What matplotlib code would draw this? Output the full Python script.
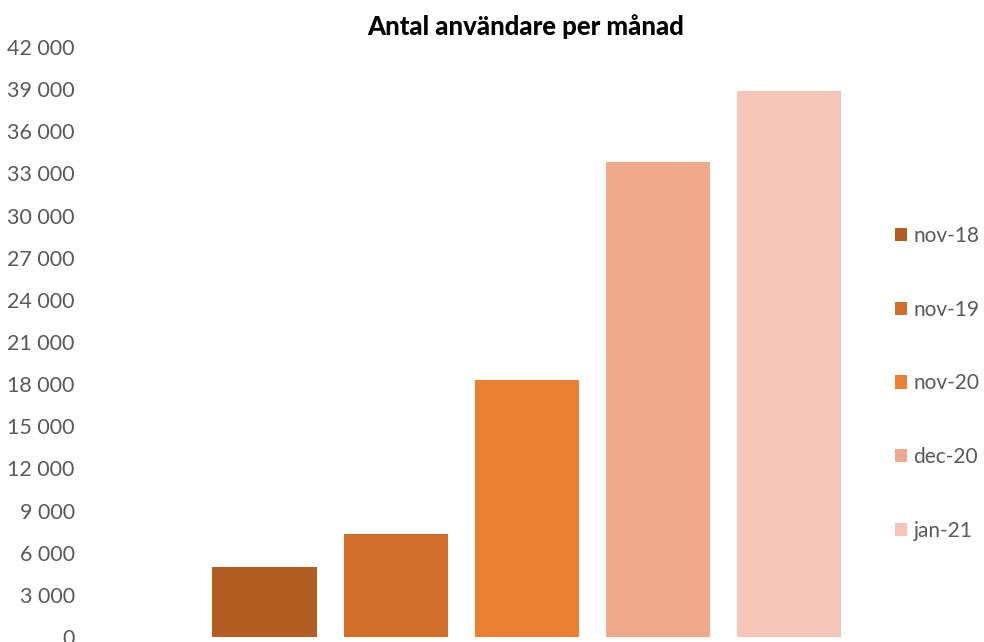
import matplotlib.pyplot as plt
from matplotlib.ticker import FuncFormatter

# data
series = ['nov-18', 'nov-19', 'nov-20', 'dec-20', 'jan-21']
users = [5000, 7350, 18300, 33800, 38900]
colors = ['#B25E23', '#D26E2A', '#ED7F32', '#F1A98C', '#F5C6B8']
yticks = list(range(0, 42001, 3000))

fig = plt.figure(figsize=(9.84, 6.42), dpi=100)
ax = fig.add_axes([90 / 984, 5 / 642, 790 / 984, 590 / 642])

for i, (name, val, c) in enumerate(zip(series, users, colors)):
    ax.bar(i, val, width=0.794, color=c, label=name)

ax.set_xlim(-1.332, 4.698)
ax.set_ylim(0, 42000)
ax.set_yticks(yticks)
ax.yaxis.set_major_formatter(FuncFormatter(lambda v, p: f'{int(v):,}'.replace(',', ' ')))
ax.tick_params(axis='y', length=0, pad=11, labelsize=15.5, labelcolor='#595959')
ax.tick_params(axis='x', length=0, labelbottom=False)
for lbl in ax.get_yticklabels():
    lbl.set_fontfamily('Lato')
for s in ax.spines.values():
    s.set_visible(False)

fig.text(0.534, 0.958, 'Antal användare per månad', ha='center', va='center',
         fontsize=18.5, fontweight='black', family='Lato')

leg = ax.legend(loc='center left', bbox_to_anchor=(0.995, 0.43), frameon=False,
                handlelength=0.6, handleheight=0.6, handletextpad=0.3,
                labelspacing=2.58, prop={'family': 'Lato', 'size': 15})
for t in leg.get_texts():
    t.set_color('#595959')

fig.savefig('out.png', dpi=100)
